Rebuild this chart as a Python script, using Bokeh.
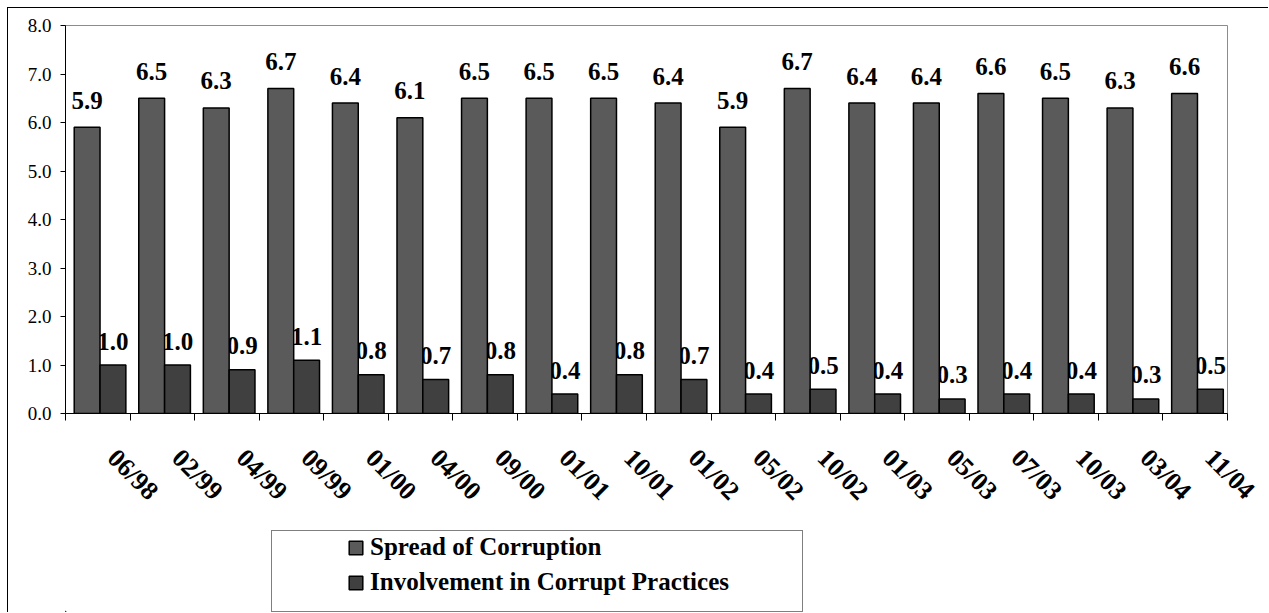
import numpy as np
from math import pi
from bokeh.plotting import figure
from bokeh.layouts import column
from bokeh.models import (ColumnDataSource, Range1d, FixedTicker, CustomJSTickFormatter,
                          NumeralTickFormatter, Legend, LegendItem)
from bokeh.core.properties import value
from bokeh.embed import file_html
from bokeh.resources import INLINE

# ---------------- data ----------------
periods = ["06/98", "02/99", "04/99", "09/99", "01/00", "04/00", "09/00", "01/01", "10/01",
           "01/02", "05/02", "10/02", "01/03", "05/03", "07/03", "10/03", "03/04", "11/04"]
spread = [5.9, 6.5, 6.3, 6.7, 6.4, 6.1, 6.5, 6.5, 6.5, 6.4, 5.9, 6.7, 6.4, 6.4, 6.6, 6.5, 6.3, 6.6]
involvement = [1.0, 1.0, 0.9, 1.1, 0.8, 0.7, 0.8, 0.4, 0.8, 0.7, 0.4, 0.5, 0.4, 0.3, 0.4, 0.4, 0.3, 0.5]
series_names = ["Spread of Corruption", "Involvement in Corrupt Practices"]
y_ticks = [0, 1, 2, 3, 4, 5, 6, 7, 8]

# ---------------- styling ----------------
SPREAD_COLOR = "#5a5a5a"
INV_COLOR = "#404040"
SERIF = "Liberation Serif"
BAR_W = 0.40
PAIR_CENTER = 0.535
BORDER = "1px solid #000000"

n = len(periods)
idx = np.arange(n)
src = ColumnDataSource(dict(
    xs=idx + PAIR_CENTER - BAR_W / 2,
    xi=idx + PAIR_CENTER + BAR_W / 2,
    spread=spread,
    inv=involvement,
    ls=[f"{v:.1f}" for v in spread],
    li=[f"{v:.1f}" for v in involvement],
))

p = figure(width=1261, height=517, x_range=Range1d(0, n), y_range=Range1d(0, 8),
           output_backend="svg", toolbar_location=None,
           min_border_left=57, min_border_right=42, min_border_top=17, min_border_bottom=112)
p.styles = {"border-left": BORDER, "border-top": BORDER}
p.margin = (7, 0, 0, 7)
p.xgrid.visible = False
p.ygrid.visible = False
p.outline_line_color = "#8c8c8c"
p.outline_line_width = 1
p.background_fill_color = "white"
p.border_fill_color = "white"

label_kw = dict(text_font=value(SERIF), text_font_style="bold", text_font_size="25px",
                text_align="center", text_baseline="alphabetic", text_color="black")

# involvement labels first (spread bars partly cover them, as in the original)
p.text(x="xi", y="inv", text="li", source=src, y_offset=-24, **label_kw)

r_spread = p.vbar(x="xs", top="spread", width=BAR_W, source=src, fill_color=SPREAD_COLOR,
                  line_color="black", line_width=1.5)
r_inv = p.vbar(x="xi", top="inv", width=BAR_W, source=src, fill_color=INV_COLOR,
               line_color="black", line_width=1.5)

p.text(x="xs", y="spread", text="ls", source=src, y_offset=-27, **label_kw)

# ---------------- axes ----------------
ax = p.xaxis[0]
ax.ticker = FixedTicker(ticks=[float(i) + 0.72 for i in idx], minor_ticks=[float(i) for i in range(n + 1)])
ax.formatter = CustomJSTickFormatter(args=dict(labels=periods),
                                     code="const k = Math.floor(tick); return (k >= 0 && k < labels.length) ? labels[k] : '';")
ax.major_label_orientation = -pi / 4
ax.major_tick_out = 0
ax.major_tick_in = 0
ax.minor_tick_out = 7
ax.minor_tick_in = 0
ax.minor_tick_line_color = "black"
ax.axis_line_color = "black"
ax.major_label_standoff = 33
ax.major_label_text_font = SERIF
ax.major_label_text_font_style = "bold"
ax.major_label_text_font_size = "26px"
ax.major_label_text_color = "black"

ay = p.yaxis[0]
ay.ticker = FixedTicker(ticks=y_ticks)
ay.formatter = NumeralTickFormatter(format="0.0")
ay.major_tick_out = 5
ay.major_tick_in = 0
ay.minor_tick_line_color = None
ay.axis_line_color = "black"
ay.major_tick_line_color = "black"
ay.major_label_standoff = 9
ay.major_label_text_font = SERIF
ay.major_label_text_font_size = "19px"
ay.major_label_text_color = "black"

# ---------------- legend strip ----------------
LEG_H = 88
q = figure(width=1261, height=LEG_H, x_range=Range1d(0, 1261), y_range=Range1d(0, LEG_H),
           output_backend="svg", toolbar_location=None,
           x_axis_location=None, y_axis_location=None,
           min_border_left=0, min_border_right=0, min_border_top=0, min_border_bottom=0)
q.styles = {"border-left": BORDER}
q.margin = (0, 0, 0, 7)
q.xgrid.visible = False
q.ygrid.visible = False
q.outline_line_color = None
q.background_fill_color = "white"
q.border_fill_color = "white"

# legend proxies (placed outside the visible range; only their legend swatches show)
q_box = q.vbar(x=[-5000], top=[1], width=1, fill_alpha=0, line_alpha=0)
q_spread = q.vbar(x=[-5000], top=[1], width=1, fill_color=SPREAD_COLOR, line_color="black", line_width=1.5)
q_inv = q.vbar(x=[-5000], top=[1], width=1, fill_color=INV_COLOR, line_color="black", line_width=1.5)

legend_box = Legend(items=[LegendItem(label=" ", renderers=[q_box])], location=(206, 0),
                    padding=0, margin=0, spacing=0, glyph_width=1, glyph_height=1,
                    label_width=529, label_height=80, label_standoff=0,
                    border_line_color="black", border_line_width=1,
                    background_fill_color="white", background_fill_alpha=1.0)
q.add_layout(legend_box)

legend = Legend(items=[LegendItem(label=series_names[0], renderers=[q_spread]),
                       LegendItem(label=series_names[1], renderers=[q_inv])],
                location=(282, 15), padding=0, margin=0, spacing=5,
                glyph_width=17, glyph_height=17, label_height=30, label_standoff=6,
                label_text_font=SERIF, label_text_font_style="bold", label_text_font_size="25px",
                label_text_color="black", border_line_color=None, background_fill_alpha=0)
q.add_layout(legend)

layout = column(p, q, spacing=0)
open("out.html", "w").write(file_html(layout, INLINE))
